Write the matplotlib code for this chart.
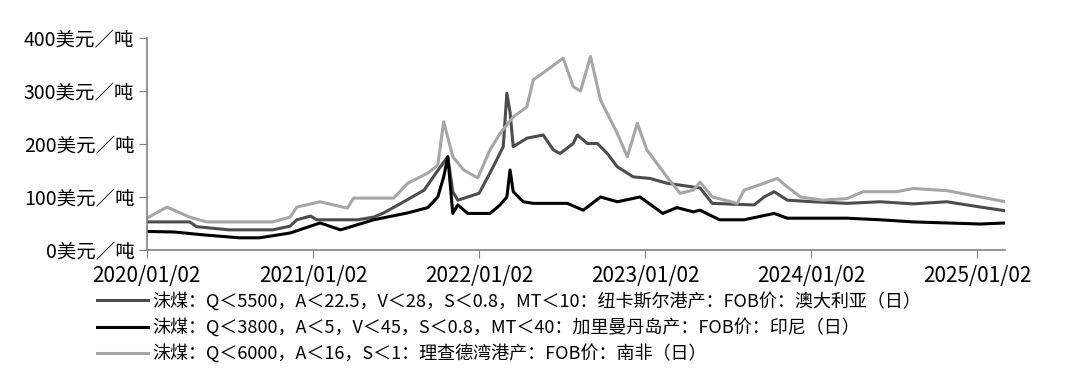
import matplotlib
matplotlib.use("Agg")
import matplotlib.pyplot as plt
import matplotlib.dates as mdates
import pandas as pd

plt.rcParams['font.family'] = ['Noto Sans CJK SC', 'DejaVu Sans']

# 澳大利亚 纽卡斯尔港 Q5500
aus_dates = ["2020-01-02", "2020-04-05", "2020-04-20", "2020-07-01", "2020-10-05", "2020-11-12",
             "2020-11-27", "2020-12-27", "2021-01-10", "2021-04-10", "2021-05-15", "2021-06-06",
             "2021-07-14", "2021-09-03", "2021-10-03", "2021-10-25", "2021-11-05", "2021-11-16",
             "2021-12-08", "2022-01-02", "2022-02-02", "2022-02-24", "2022-03-04", "2022-03-11",
             "2022-03-18", "2022-04-17", "2022-05-23", "2022-06-14", "2022-06-29", "2022-07-28",
             "2022-08-06", "2022-08-28", "2022-09-19", "2022-10-11", "2022-11-02", "2022-12-07",
             "2023-01-13", "2023-02-19", "2023-05-03", "2023-05-30", "2023-08-30", "2023-09-21",
             "2023-10-13", "2023-11-11", "2024-01-06", "2024-03-21", "2024-06-02", "2024-08-14",
             "2024-10-27", "2025-01-09", "2025-03-05"]
aus_vals = [53, 53, 44, 38, 38, 45,
            57, 64, 57, 57, 62, 70,
            88, 113, 150, 176, 110, 94,
            100, 107, 157, 195, 296, 260,
            195, 211, 217, 189, 182, 201,
            217, 201, 201, 182, 157, 138,
            135, 126, 117, 88, 85, 100,
            110, 94, 91, 88, 91, 87,
            91, 81, 74]

# 印尼 加里曼丹岛 Q3800
idn_dates = ["2020-01-02", "2020-03-01", "2020-05-12", "2020-07-24", "2020-09-06", "2020-11-12",
             "2021-01-17", "2021-03-03", "2021-05-15", "2021-07-29", "2021-09-11", "2021-10-03",
             "2021-10-16", "2021-10-25", "2021-11-05", "2021-11-16", "2021-12-08", "2022-01-26",
             "2022-02-17", "2022-03-04", "2022-03-11", "2022-03-18", "2022-04-09", "2022-05-01",
             "2022-07-15", "2022-08-19", "2022-09-26", "2022-11-02", "2022-12-22", "2023-02-10",
             "2023-03-13", "2023-04-18", "2023-05-03", "2023-06-15", "2023-08-08", "2023-10-13",
             "2023-11-11", "2024-03-21", "2024-06-02", "2024-08-14", "2025-01-09", "2025-03-05"]
idn_vals = [35, 34, 28, 23, 23, 32,
            51, 38, 57, 70, 80, 100,
            138, 176, 69, 85, 69, 69,
            85, 100, 151, 110, 91, 88,
            88, 75, 100, 91, 100, 69,
            80, 72, 75, 57, 57, 69,
            60, 60, 57, 53, 49, 51]

# 南非 理查德湾港 Q6000
zaf_dates = ["2020-01-02", "2020-02-15", "2020-04-05", "2020-05-12", "2020-10-05", "2020-11-12",
             "2020-11-27", "2021-01-17", "2021-03-18", "2021-04-01", "2021-06-28", "2021-07-29",
             "2021-09-11", "2021-10-03", "2021-10-16", "2021-11-05", "2021-11-29", "2021-12-30",
             "2022-01-26", "2022-02-17", "2022-03-18", "2022-04-17", "2022-05-01", "2022-06-01",
             "2022-07-06", "2022-07-28", "2022-08-13", "2022-09-04", "2022-09-26", "2022-11-02",
             "2022-11-24", "2022-12-16", "2023-01-06", "2023-02-19", "2023-03-20", "2023-04-18",
             "2023-05-03", "2023-05-30", "2023-07-24", "2023-08-08", "2023-09-21", "2023-10-20",
             "2023-11-11", "2023-12-10", "2024-01-28", "2024-03-21", "2024-04-26", "2024-07-09",
             "2024-08-14", "2024-10-27", "2025-01-09", "2025-03-05"]
zaf_vals = [60, 81, 62, 53, 53, 62,
            81, 91, 79, 98, 98, 126,
            145, 160, 242, 176, 151, 136,
            189, 220, 251, 270, 321, 340,
            362, 308, 300, 365, 283, 220,
            176, 239, 189, 138, 107, 113,
            128, 100, 88, 113, 126, 135,
            119, 100, 94, 97, 110, 110,
            116, 112, 100, 91]

labels = ["沫煤：Q＜5500，A＜22.5，V＜28，S＜0.8，MT＜10：纽卡斯尔港产：FOB价：澳大利亚（日）",
          "沫煤：Q＜3800，A＜5，V＜45，S＜0.8，MT＜40：加里曼丹岛产：FOB价：印尼（日）",
          "沫煤：Q＜6000，A＜16，S＜1：理查德湾港产：FOB价：南非（日）"]
tick_dates = ["2020-01-02", "2021-01-02", "2022-01-02", "2023-01-02", "2024-01-02", "2025-01-02"]
y_ticks = [0, 100, 200, 300, 400]

fig = plt.figure(figsize=(10.8, 3.84), dpi=100)
ax = fig.add_axes([0.136, 0.349, 0.795, 0.552])

ax.plot(pd.to_datetime(aus_dates), aus_vals, color="#4d4d4d", lw=2.2, label=labels[0])
ax.plot(pd.to_datetime(idn_dates), idn_vals, color="#000000", lw=2.2, label=labels[1])
ax.plot(pd.to_datetime(zaf_dates), zaf_vals, color="#a6a6a6", lw=2.2, label=labels[2])

ax.set_ylim(0, 400)
ax.set_yticks(y_ticks)
ax.set_yticklabels([f"{v}美元／吨" for v in y_ticks], fontsize=14)
ax.set_xlim(pd.Timestamp("2020-01-02"), pd.Timestamp("2025-03-05"))
ax.set_xticks(pd.to_datetime(tick_dates))
ax.xaxis.set_major_formatter(mdates.DateFormatter("%Y/%m/%d"))
ax.tick_params(axis="x", labelsize=15, length=6, color="#808080", pad=5)
ax.tick_params(axis="y", length=6, color="#808080", pad=3)

for s in ["top", "right"]:
    ax.spines[s].set_visible(False)
for s in ["left", "bottom"]:
    ax.spines[s].set_color("#808080")
    ax.spines[s].set_linewidth(1.2)

fig.legend(loc="upper left", bbox_to_anchor=(0.09, 0.24), frameon=False,
           fontsize=13, handlelength=2.8, handletextpad=0.25, labelspacing=0.4,
           borderpad=0, borderaxespad=0)

fig.savefig("out.png", dpi=100)
